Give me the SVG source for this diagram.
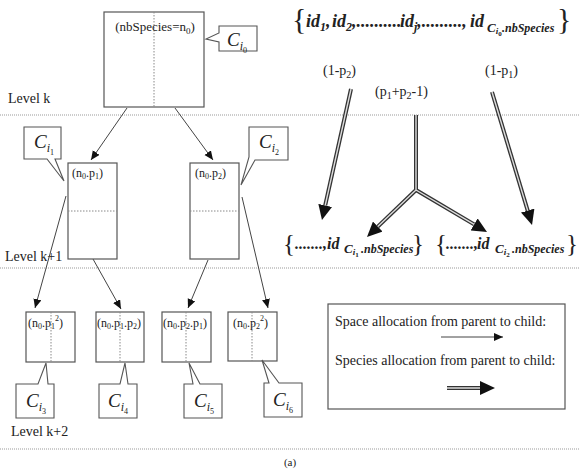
<svg xmlns="http://www.w3.org/2000/svg" width="580" height="474" viewBox="0 0 580 474">
<style>
.bg{fill:#fff}
.n{fill:#fff;stroke:#555;stroke-width:1.2}
.co{fill:#fff;stroke:#555;stroke-width:1.1;stroke-linejoin:miter}
.dv{stroke:#888;stroke-width:1;stroke-dasharray:1.5 1.5;fill:none}
.lvl{stroke:#999;stroke-width:1;stroke-dasharray:1 1;fill:none}
.t{font-family:"Liberation Serif","Times New Roman",serif;fill:#222}
.lab{font-size:14px}
.nb{font-size:12px}
.ci{font-size:19px;font-style:italic}
.set{font-weight:bold;font-style:italic}
.br{font-family:"Liberation Serif","Times New Roman",serif;fill:#222;font-weight:normal}
.sp{stroke:#444;stroke-width:1;fill:none;marker-end:url(#ah)}
.do{stroke:#333;stroke-width:4;fill:none}
.dom{stroke:#333;stroke-width:4;fill:none;marker-end:url(#ah2)}
.di{stroke:#ddd;stroke-width:1.4;fill:none}
</style>
<defs>
<marker id="ah" markerUnits="userSpaceOnUse" markerWidth="10" markerHeight="9" refX="9" refY="4" orient="auto"><path d="M0,0 L9,4 L0,8 z" fill="#111"/></marker>
<marker id="ah2" markerUnits="userSpaceOnUse" markerWidth="16" markerHeight="14" refX="0" refY="7" orient="auto"><path d="M0,0 L15,7 L0,14 z" fill="#111"/></marker>
</defs>
<rect class="bg" x="0" y="0" width="580" height="474"/>

<g id="levels">
<line class="lvl" x1="0" y1="115" x2="580" y2="115"/>
<line class="lvl" x1="0" y1="268" x2="580" y2="268"/>
<line class="lvl" x1="0" y1="449" x2="580" y2="449"/>
<text class="t lab" x="8" y="103">Level k</text>
<text class="t lab" x="5" y="261">Level k+1</text>
<text class="t lab" x="11" y="436">Level k+2</text>
<text class="t" font-size="11" x="290" y="466" text-anchor="middle">(a)</text>
</g>

<g id="connectors">
<line class="sp" x1="127" y1="108" x2="91" y2="160"/>
<line class="sp" x1="175" y1="108" x2="213" y2="160"/>
<line class="sp" x1="66" y1="196" x2="35" y2="308"/>
<line class="sp" x1="93" y1="259" x2="121" y2="309"/>
<line class="sp" x1="208" y1="260" x2="188" y2="308"/>
<line class="sp" x1="242" y1="197" x2="268" y2="308"/>
<path class="dom" d="M351,89 L325.2,205.4"/>
<path class="di" d="M351,89 L325.2,205.4"/>
<path class="dom" d="M492,92 L527.7,210.6"/>
<path class="di" d="M492,92 L527.7,210.6"/>
<path class="do" d="M416,115 V190"/>
<path class="dom" d="M416,190 L377.8,226.6"/>
<path class="dom" d="M416,190 L474.1,224.4"/>
<path class="di" d="M416,115 V190 L377.8,226.6 M416,190 L474.1,224.4"/>
</g>

<g id="node0">
<rect class="n" x="104" y="12" width="100" height="95"/>
<line class="dv" x1="154" y1="12" x2="154" y2="107"/>
<text class="t" font-size="13" x="155" y="31" text-anchor="middle">(nbSpecies=n<tspan font-size="9" dy="3">0</tspan><tspan dy="-3">)</tspan></text>
</g>
<g id="c0">
<path class="co" d="M219,26 H257 V51 H219 V42 L206,39 L219,33 Z"/>
<text class="t ci" x="227" y="46">C<tspan font-size="12" dy="4">i</tspan><tspan font-size="8" dy="3" font-style="normal">0</tspan></text>
</g>

<g id="node1">
<rect class="n" x="68" y="163" width="49" height="96"/>
<line class="dv" x1="68" y1="211" x2="117" y2="211"/>
<text class="t nb" x="72" y="177">(n<tspan font-size="8" dy="2">0</tspan><tspan dy="-2">.p</tspan><tspan font-size="8" dy="2">1</tspan><tspan dy="-2">)</tspan></text>
</g>
<g id="c1">
<path class="co" d="M24,127 H61 V159 H55 L64,181 L47,159 H24 Z"/>
<text class="t ci" x="34" y="148">C<tspan font-size="12" dy="4">i</tspan><tspan font-size="8" dy="3" font-style="normal">1</tspan></text>
</g>

<g id="node2">
<rect class="n" x="190" y="163" width="49" height="96"/>
<line class="dv" x1="190" y1="211" x2="239" y2="211"/>
<text class="t nb" x="195" y="177">(n<tspan font-size="8" dy="2">0</tspan><tspan dy="-2">.p</tspan><tspan font-size="8" dy="2">2</tspan><tspan dy="-2">)</tspan></text>
</g>
<g id="c2">
<path class="co" d="M249,127 H288 V160 H255 L241,185 L249,157 Z"/>
<text class="t ci" x="259" y="148">C<tspan font-size="12" dy="4">i</tspan><tspan font-size="8" dy="3" font-style="normal">2</tspan></text>
</g>

<g id="node3">
<rect class="n" x="26" y="312" width="49" height="50"/>
<line class="dv" x1="51" y1="312" x2="51" y2="362"/>
<text class="t nb" x="28" y="327">(n<tspan font-size="8" dy="2">0</tspan><tspan dy="-2">.p</tspan><tspan font-size="8" dy="2">1</tspan><tspan font-size="8" dy="-8">2</tspan><tspan dy="6">)</tspan></text>
</g>
<g id="c3">
<path class="co" d="M16,384 H38 L46,363 L48,384 H54 V418 H16 Z"/>
<text class="t ci" x="26" y="407">C<tspan font-size="12" dy="4">i</tspan><tspan font-size="8" dy="3" font-style="normal">3</tspan></text>
</g>

<g id="node4">
<rect class="n" x="96" y="312" width="48" height="50"/>
<line class="dv" x1="120" y1="312" x2="120" y2="362"/>
<text class="t nb" x="97" y="327">(n<tspan font-size="8" dy="2">0</tspan><tspan dy="-2">.p</tspan><tspan font-size="8" dy="2">1</tspan><tspan dy="-2">.p</tspan><tspan font-size="8" dy="2">2</tspan><tspan dy="-2">)</tspan></text>
</g>
<g id="c4">
<path class="co" d="M99,384 H120 L125,363 L128,384 H137 V418 H99 Z"/>
<text class="t ci" x="108" y="407">C<tspan font-size="12" dy="4">i</tspan><tspan font-size="8" dy="3" font-style="normal">4</tspan></text>
</g>

<g id="node5">
<rect class="n" x="162" y="312" width="49" height="50"/>
<line class="dv" x1="186" y1="312" x2="186" y2="362"/>
<text class="t nb" x="163" y="327">(n<tspan font-size="8" dy="2">0</tspan><tspan dy="-2">.p</tspan><tspan font-size="8" dy="2">2</tspan><tspan dy="-2">.p</tspan><tspan font-size="8" dy="2">1</tspan><tspan dy="-2">)</tspan></text>
</g>
<g id="c5">
<path class="co" d="M184,384 H193 L189,363 L200,384 H222 V418 H184 Z"/>
<text class="t ci" x="194" y="407">C<tspan font-size="12" dy="4">i</tspan><tspan font-size="8" dy="3" font-style="normal">5</tspan></text>
</g>

<g id="node6">
<rect class="n" x="228" y="312" width="49" height="49"/>
<line class="dv" x1="252" y1="312" x2="252" y2="361"/>
<text class="t nb" x="233" y="327">(n<tspan font-size="8" dy="2">0</tspan><tspan dy="-2">.p</tspan><tspan font-size="8" dy="2">2</tspan><tspan font-size="8" dy="-8">2</tspan><tspan dy="6">)</tspan></text>
</g>
<g id="c6">
<path class="co" d="M264,383 H269 L262,360 L279,383 H302 V417 H264 Z"/>
<text class="t ci" x="273" y="406">C<tspan font-size="12" dy="4">i</tspan><tspan font-size="8" dy="3" font-style="normal">6</tspan></text>
</g>

<g id="probs">
<text class="t" font-size="14" x="323" y="75">(1-p<tspan font-size="10" dy="3">2</tspan><tspan dy="-3">)</tspan></text>
<text class="t" font-size="14" x="485" y="75">(1-p<tspan font-size="10" dy="3">1</tspan><tspan dy="-3">)</tspan></text>
<text class="t" font-size="14" x="375" y="96">(p<tspan font-size="10" dy="3">1</tspan><tspan dy="-3">+p</tspan><tspan font-size="10" dy="3">2</tspan><tspan dy="-3">-1)</tspan></text>
</g>

<g id="set0">
<text class="br" font-size="30" x="292" y="29">{</text>
<text class="t set" font-size="18" y="27"><tspan x="306">id</tspan><tspan font-size="12" dy="4">1</tspan><tspan dy="-4">,</tspan><tspan x="332">id</tspan><tspan font-size="12" dy="4">2</tspan><tspan dy="-4">,..........</tspan><tspan x="400">id</tspan><tspan font-size="12" dy="4">j</tspan><tspan dy="-4">,.........,</tspan><tspan x="470">id</tspan><tspan font-size="13" dy="5" x="487">C</tspan><tspan font-size="9" dy="2">i</tspan><tspan font-size="7" dy="2" font-style="normal">0</tspan><tspan font-size="12" dy="-4" x="502">.nbSpecies</tspan></text>
<text class="br" font-size="30" x="557" y="29">}</text>
</g>

<g id="set1">
<text class="br" font-size="25" x="283" y="252">{</text>
<text class="t set" font-size="16" y="249"><tspan x="295">.......,</tspan><tspan x="327">id</tspan><tspan font-size="13" dy="4" x="344">C</tspan><tspan font-size="9" dy="2">i</tspan><tspan font-size="7" dy="2" font-style="normal">1</tspan><tspan font-size="12" dy="-4" x="361">.nbSpecies</tspan></text>
<text class="br" font-size="25" x="412" y="252">}</text>
</g>

<g id="set2">
<text class="br" font-size="25" x="435" y="252">{</text>
<text class="t set" font-size="16" y="249"><tspan x="446">.......,</tspan><tspan x="477">id</tspan><tspan font-size="13" dy="4" x="495">C</tspan><tspan font-size="9" dy="2">i</tspan><tspan font-size="7" dy="2" font-style="normal">2</tspan><tspan font-size="12" dy="-4" x="512">.nbSpecies</tspan></text>
<text class="br" font-size="25" x="566" y="252">}</text>
</g>

<g id="legend">
<rect class="n" x="328" y="304" width="237" height="105"/>
<text class="t lab" x="335" y="326">Space allocation from parent to child:</text>
<line class="sp" x1="441" y1="337" x2="503" y2="337"/>
<text class="t lab" x="335" y="365">Species allocation from parent to child:</text>
<path class="dom" d="M447,388 H480"/>
<path class="di" d="M447,388 H480"/>
</g>
</svg>
